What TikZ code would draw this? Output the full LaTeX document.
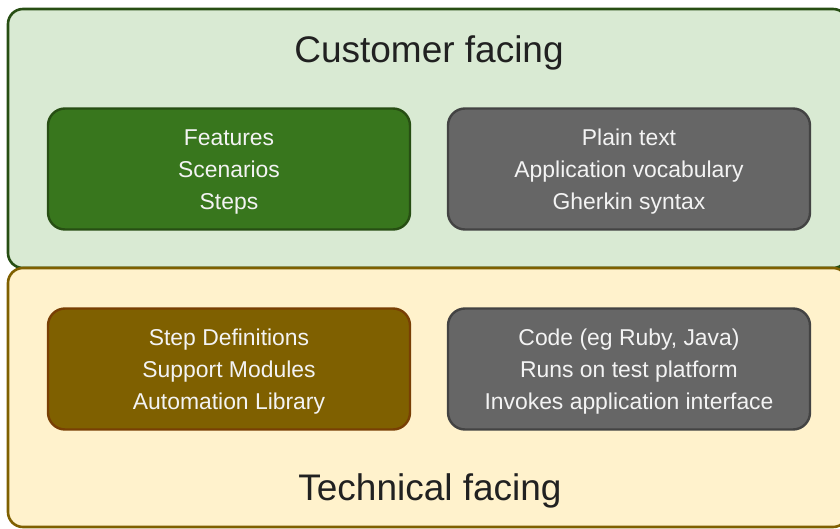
\documentclass[tikz,border=0pt]{standalone}
\usepackage{fontspec}
\setmainfont{Liberation Sans}
\definecolor{custbg}{HTML}{D9EAD3}
\definecolor{custline}{HTML}{274E13}
\definecolor{techbg}{HTML}{FFF2CC}
\definecolor{techline}{HTML}{7F6000}
\definecolor{greenfill}{HTML}{38761D}
\definecolor{greyfill}{HTML}{666666}
\definecolor{greyline}{HTML}{434343}
\definecolor{brownfill}{HTML}{7F6000}
\definecolor{brownline}{HTML}{783F04}
\definecolor{titletext}{HTML}{212121}
\definecolor{boxtext}{HTML}{F3F3F3}
\begin{document}
\begin{tikzpicture}[x=1pt,y=-1pt,
  layer/.style={draw, line width=2.6pt, rounded corners=15pt, minimum width=840pt, minimum height=259pt, inner sep=0pt},
  innerbox/.style={draw, line width=2.4pt, rounded corners=17pt, minimum width=362pt, minimum height=121pt, inner sep=0pt,
    text=boxtext, align=center, font=\fontsize{22.9}{32}\selectfont},
  title/.style={text=titletext, font=\fontsize{37}{42}\selectfont, inner sep=0pt}]
\useasboundingbox (0,0) rectangle (840,529);
\clip (0,0) rectangle (840,529);
\node[layer, fill=custbg, draw=custline] (cust) at (428,138.5) {};
\node[layer, fill=techbg, draw=techline] (tech) at (428,397.5) {};
\node[title] (custtitle) at (429,53) {Customer facing};
\node[title] (techtitle) at (430,491) {Technical facing};
\node[innerbox, fill=greenfill, draw=custline] (features) at (229,169) {};
\node[text=boxtext, align=center, font=\fontsize{22.9}{32}\selectfont] (featurestext) at (229,172) {Features\\Scenarios\\Steps};
\node[innerbox, fill=greyfill, draw=greyline] (plain) at (629,169) {};
\node[text=boxtext, align=center, font=\fontsize{22.9}{32}\selectfont] (plaintext) at (629,172) {Plain text\\Application vocabulary\\Gherkin syntax};
\node[innerbox, fill=brownfill, draw=brownline] (stepdefs) at (229,369) {};
\node[text=boxtext, align=center, font=\fontsize{22.9}{32}\selectfont] (stepdefstext) at (229,372) {Step Definitions\\Support Modules\\Automation Library};
\node[innerbox, fill=greyfill, draw=greyline] (code) at (629,369) {};
\node[text=boxtext, align=center, font=\fontsize{22.9}{32}\selectfont] (codetext) at (629,372) {Code (eg Ruby, Java)\\Runs on test platform\\Invokes application interface};
\end{tikzpicture}
\end{document}
